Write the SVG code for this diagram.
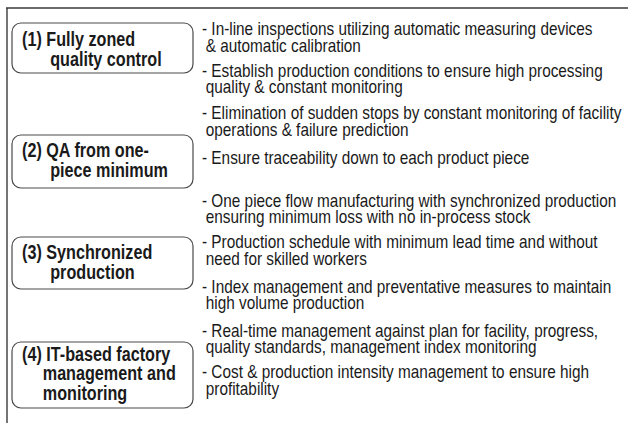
<svg xmlns="http://www.w3.org/2000/svg" width="628" height="423" viewBox="0 0 628 423">
<style>
  .frame { stroke: #3a3a3a; stroke-width: 1.4; fill: none; }
  .box { fill: #ffffff; stroke: #4a4a4a; stroke-width: 1.2; }
  .lbl { font-family: "Liberation Sans", Arial, sans-serif; font-size: 19.5px; font-weight: bold; fill: #1a1a1a; }
  .txt { font-family: "Liberation Sans", Arial, sans-serif; font-size: 17.6px; fill: #1a1a1a; }
</style>
<rect width="628" height="423" fill="#ffffff"/>
<g id="frame">
  <line class="frame" x1="6" y1="8" x2="628" y2="8"/>
  <line class="frame" x1="7" y1="8" x2="7" y2="423"/>
</g>
<g id="connectors"></g>
<g id="node1">
  <rect class="box" x="12" y="23" width="181" height="50" rx="9"/>
  <text class="lbl" transform="translate(22,46) scale(0.83,1)"><tspan x="0" y="0">(1) Fully zoned</tspan><tspan x="34" y="20">quality control</tspan></text>
</g>
<g id="node2">
  <rect class="box" x="12" y="135" width="181" height="53" rx="9"/>
  <text class="lbl" transform="translate(22,157) scale(0.83,1)"><tspan x="0" y="0">(2) QA from one-</tspan><tspan x="34" y="20">piece minimum</tspan></text>
</g>
<g id="node3">
  <rect class="box" x="12" y="237" width="181" height="52" rx="9"/>
  <text class="lbl" transform="translate(22,259) scale(0.83,1)"><tspan x="0" y="0">(3) Synchronized</tspan><tspan x="34" y="20">production</tspan></text>
</g>
<g id="node4">
  <rect class="box" x="12" y="342" width="181" height="66" rx="9"/>
  <text class="lbl" transform="translate(22,361) scale(0.83,1)"><tspan x="0" y="0">(4) IT-based factory</tspan><tspan x="25" y="19.5">management and</tspan><tspan x="25" y="39">monitoring</tspan></text>
</g>
<g id="items">
  <text class="txt" transform="translate(202,35) scale(0.872,1)"><tspan x="0" y="0">- In-line inspections utilizing automatic measuring devices</tspan><tspan x="4.3" y="17">&amp; automatic calibration</tspan></text>
  <text class="txt" transform="translate(202,77) scale(0.872,1)"><tspan x="0" y="0">- Establish production conditions to ensure high processing</tspan><tspan x="4.3" y="16.5">quality &amp; constant monitoring</tspan></text>
  <text class="txt" transform="translate(202,119) scale(0.872,1)"><tspan x="0" y="0">- Elimination of sudden stops by constant monitoring of facility</tspan><tspan x="4.3" y="17">operations &amp; failure prediction</tspan></text>
  <text class="txt" transform="translate(202,164) scale(0.872,1)"><tspan x="0" y="0">- Ensure traceability down to each product piece</tspan></text>
  <text class="txt" transform="translate(202,207) scale(0.872,1)"><tspan x="0" y="0">- One piece flow manufacturing with synchronized production</tspan><tspan x="4.3" y="16.5">ensuring minimum loss with no in-process stock</tspan></text>
  <text class="txt" transform="translate(202,248) scale(0.872,1)"><tspan x="0" y="0">- Production schedule with minimum lead time and without</tspan><tspan x="4.3" y="17">need for skilled workers</tspan></text>
  <text class="txt" transform="translate(202,293) scale(0.872,1)"><tspan x="0" y="0">- Index management and preventative measures to maintain</tspan><tspan x="4.3" y="16.5">high volume production</tspan></text>
  <text class="txt" transform="translate(202,337) scale(0.872,1)"><tspan x="0" y="0">- Real-time management against plan for facility, progress,</tspan><tspan x="4.3" y="16.5">quality standards, management index monitoring</tspan></text>
  <text class="txt" transform="translate(202,378) scale(0.872,1)"><tspan x="0" y="0">- Cost &amp; production intensity management to ensure high</tspan><tspan x="4.3" y="17">profitability</tspan></text>
</g>
</svg>
